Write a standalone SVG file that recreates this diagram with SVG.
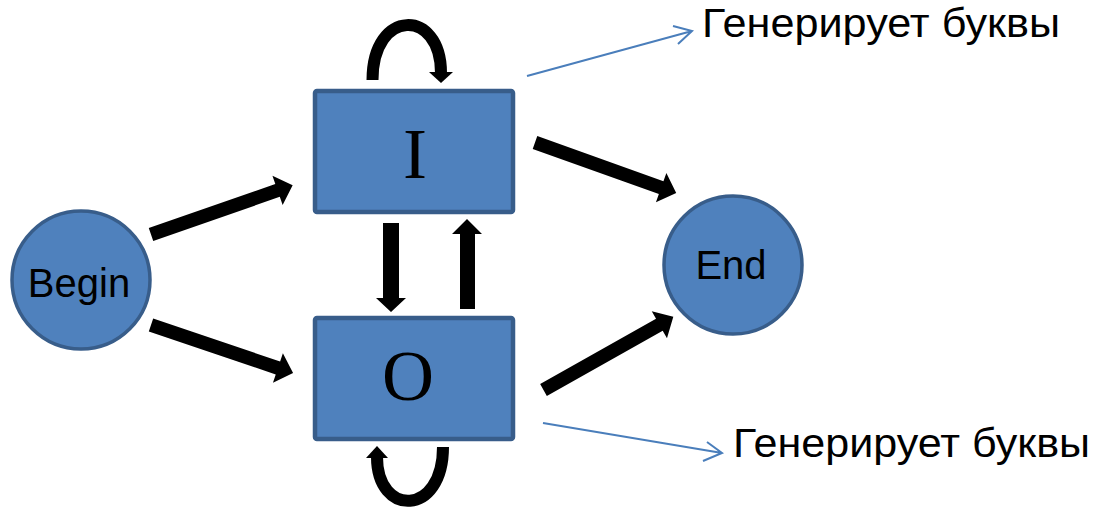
<svg xmlns="http://www.w3.org/2000/svg" width="1098" height="509" viewBox="0 0 1098 509">
<style>
.node{fill:#4f81bd;stroke:#385d8a;stroke-width:3.5}
.box{fill:#4f81bd;stroke:#385d8a;stroke-width:4.5}
.sans{font-family:"Liberation Sans",Arial,sans-serif;font-size:40px;fill:#000}
.serif{font-family:"Liberation Serif","Times New Roman",serif;font-size:72px;fill:#000}
.thick{fill:#000}
.loop{fill:none;stroke:#000;stroke-width:12}
.note{fill:none;stroke:#4a7ebb;stroke-width:2}
</style>
<rect width="1098" height="509" fill="#fff"/>
<g id="begin">
<circle class="node" cx="81" cy="280" r="69"/>
<text class="sans" x="79" y="297" text-anchor="middle">Begin</text>
</g>
<g id="end">
<circle class="node" cx="733" cy="265" r="69"/>
<text class="sans" x="731" y="279" text-anchor="middle">End</text>
</g>
<g id="state-I">
<rect class="box" x="315" y="91" width="198" height="121" rx="2"/>
<text class="serif" x="415" y="178" text-anchor="middle">I</text>
</g>
<g id="state-O">
<rect class="box" x="315" y="318" width="198" height="121" rx="2"/>
<text class="serif" x="408" y="400" text-anchor="middle">O</text>
</g>
<g id="label-top">
<text class="sans" x="702" y="37" textLength="358" lengthAdjust="spacingAndGlyphs">Генерирует буквы</text>
</g>
<g id="label-bottom">
<text class="sans" x="733" y="457" textLength="357" lengthAdjust="spacingAndGlyphs">Генерирует буквы</text>
</g>
<g id="connectors">
<polygon class="thick" transform="translate(151,234.5) rotate(-19.2)" points="0,-6.8 134,-6.8 134,-15.5 150,0 134,15.5 134,6.8 0,6.8"/>
<polygon class="thick" transform="translate(151,325) rotate(18.7)" points="0,-6.8 134,-6.8 134,-15.5 150,0 134,15.5 134,6.8 0,6.8"/>
<polygon class="thick" transform="translate(535,142.5) rotate(19.7)" points="0,-6.8 134,-6.8 134,-15.5 150,0 134,15.5 134,6.8 0,6.8"/>
<polygon class="thick" transform="translate(543.5,390) rotate(-29.4)" points="0,-6.8 133,-6.8 133,-15.5 149,0 133,15.5 133,6.8 0,6.8"/>
<polygon class="thick" points="383,223 399,223 399,298 406,298 391,312 376,298 383,298"/>
<polygon class="thick" points="460,309 475,309 475,234 482,234 467,219 452,234 460,234"/>
<path class="loop" d="M372.5,80 C372.5,8 441,8 441,73"/>
<polygon class="thick" points="429,72 453,72 441,83"/>
<path class="loop" d="M443,447 C443,517 377,517 377,457"/>
<polygon class="thick" points="366,458 388,458 377,446"/>
<path class="note" d="M527,76 L692,31 M673,26 L692,31 L678,44"/>
<path class="note" d="M543,423 L722,453 M707,442 L722,453 L703,461"/>
</g>
</svg>
